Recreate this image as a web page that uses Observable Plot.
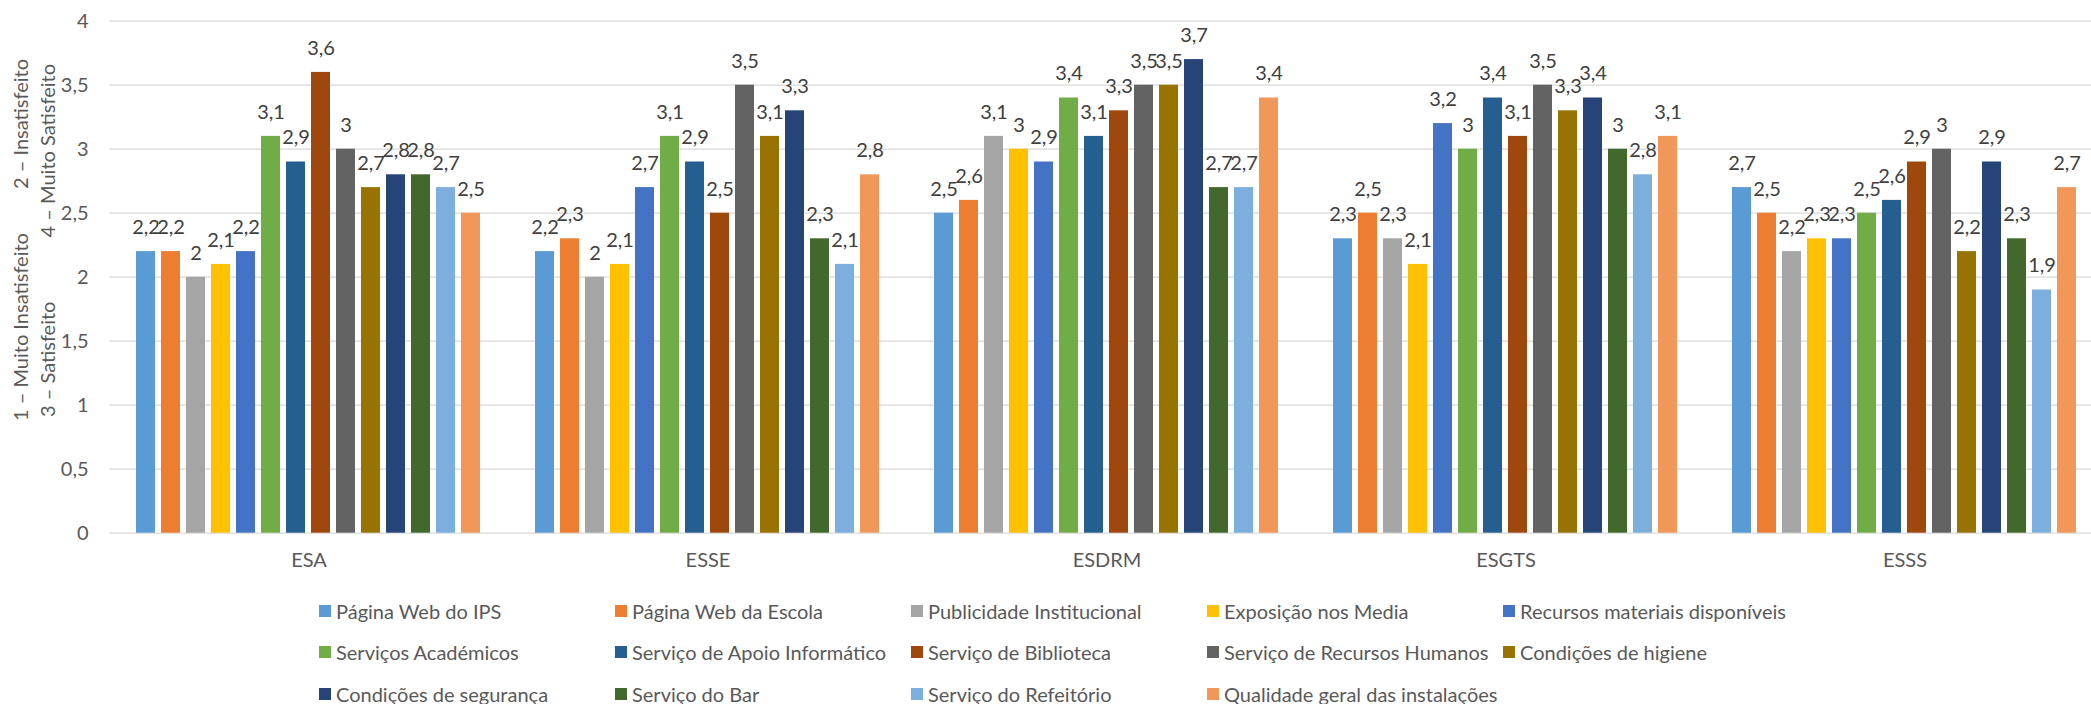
<!DOCTYPE html>
<html>
<head>
<meta charset="utf-8">
<script src="https://cdn.jsdelivr.net/npm/d3@7"></script>
<script src="https://cdn.jsdelivr.net/npm/@observablehq/plot@0.6"></script>
<style>
  html, body { margin: 0; padding: 0; background: #fff; }
  body { width: 2091px; height: 704px; overflow: hidden; font-family: Lato, "Liberation Sans", sans-serif; }
  #legend {
    display: grid;
    grid-template-columns: repeat(5, 296px);
    grid-auto-rows: 41.5px;
    align-items: center;
    padding-left: 319px;
    font-size: 20px;
    color: #595959;
  }
  .item { display: flex; align-items: center; white-space: nowrap; }
  .sw { width: 12px; height: 12px; margin-right: 5px; flex: none; }
</style>
</head>
<body>
<div id="chart"></div>
<div id="legend"></div>
<script>
// ---- data ----
const schools = ["ESA", "ESSE", "ESDRM", "ESGTS", "ESSS"];
const series = [
  "Página Web do IPS",
  "Página Web da Escola",
  "Publicidade Institucional",
  "Exposição nos Media",
  "Recursos materiais disponíveis",
  "Serviços Académicos",
  "Serviço de Apoio Informático",
  "Serviço de Biblioteca",
  "Serviço de Recursos Humanos",
  "Condições de higiene",
  "Condições de segurança",
  "Serviço do Bar",
  "Serviço do Refeitório",
  "Qualidade geral das instalações"
];
const colors = ["#5B9BD5", "#ED7D31", "#A5A5A5", "#FFC000", "#4472C4", "#70AD47", "#255E91",
                "#9E480E", "#636363", "#997300", "#264478", "#43682B", "#7CAFDD", "#F1975A"];
const valuesESA   = [2.2, 2.2, 2.0, 2.1, 2.2, 3.1, 2.9, 3.6, 3.0, 2.7, 2.8, 2.8, 2.7, 2.5];
const valuesESSE  = [2.2, 2.3, 2.0, 2.1, 2.7, 3.1, 2.9, 2.5, 3.5, 3.1, 3.3, 2.3, 2.1, 2.8];
const valuesESDRM = [2.5, 2.6, 3.1, 3.0, 2.9, 3.4, 3.1, 3.3, 3.5, 3.5, 3.7, 2.7, 2.7, 3.4];
const valuesESGTS = [2.3, 2.5, 2.3, 2.1, 3.2, 3.0, 3.4, 3.1, 3.5, 3.3, 3.4, 3.0, 2.8, 3.1];
const valuesESSS  = [2.7, 2.5, 2.2, 2.3, 2.3, 2.5, 2.6, 2.9, 3.0, 2.2, 2.9, 2.3, 1.9, 2.7];
const yTicks = [0, 0.5, 1, 1.5, 2, 2.5, 3, 3.5, 4];
const yTitleLine1 = ["1 – Muito Insatisfeito", "2 – Insatisfeito"];
const yTitleLine2 = ["3 – Satisfeito", "4 – Muito Satisfeito"];

const allValues = [valuesESA, valuesESSE, valuesESDRM, valuesESGTS, valuesESSS];
const data = schools.flatMap((s, i) => series.map((name, j) => ({school: s, series: name, value: allValues[i][j]})));
const fmt = v => String(v).replace(".", ",");

// ---- layout ----
const W = 2091, H = 590;
const mL = 109, mR = -13, mT = 20.7, mB = H - 532.7;
const fxPadInner = 0.11, fxPadOuter = 0.055;
const step = (W - mL - mR) / (schools.length - fxPadInner + 2 * fxPadOuter);
const ext = step * fxPadOuter;          // half gap between groups
const firstBand = mL + ext;
const FS = 20;

const plot = Plot.plot({
  width: W,
  height: H,
  marginLeft: mL,
  marginRight: mR,
  marginTop: mT,
  marginBottom: mB,
  style: {fontFamily: "Lato, 'Liberation Sans', sans-serif", fontSize: FS + "px", color: "#595959", background: "white", overflow: "hidden"},
  fx: {domain: schools, paddingInner: fxPadInner, paddingOuter: fxPadOuter, axis: "bottom", tickSize: 0, tickPadding: 20, label: null},
  x: {domain: series, paddingInner: 0.224, paddingOuter: 0, axis: null},
  y: {domain: [0, 4], axis: null},
  color: {domain: series, range: colors},
  marks: [
    Plot.ruleY(yTicks, {y: d => d, stroke: "#D9D9D9", strokeWidth: 1.3, insetLeft: -ext, insetRight: -ext}),
    Plot.barY(data, {fx: "school", x: "series", y: "value", fill: "series"}),
    Plot.text(data, {fx: "school", x: "series", y: "value", text: d => fmt(d.value), dy: -24, fill: "#404040", fontSize: FS}),
    Plot.axisY({ticks: yTicks, tickFormat: fmt, tickSize: 0, tickPadding: firstBand - 88, label: null, fill: "#595959"})
  ]
});
document.getElementById("chart").appendChild(plot);

// y-axis title (two rotated lines)
const svg = d3.select(plot);
const titleG = svg.append("g").attr("fill", "#595959").attr("font-size", FS).attr("font-family", "Lato, 'Liberation Sans', sans-serif");
const tpos = [
  {t: yTitleLine1[0], x: 20, y: 421, a: "start"},
  {t: yTitleLine1[1], x: 20, y: 59, a: "end"},
  {t: yTitleLine2[0], x: 46.5, y: 417, a: "start"},
  {t: yTitleLine2[1], x: 46.5, y: 64, a: "end"}
];
tpos.forEach(p => {
  titleG.append("text")
    .attr("transform", `translate(${p.x},${p.y}) rotate(-90)`)
    .attr("text-anchor", p.a)
    .attr("dominant-baseline", "central")
    .text(p.t);
});

// legend
const legend = d3.select("#legend");
series.forEach((s, i) => {
  const it = legend.append("div").attr("class", "item");
  it.append("span").attr("class", "sw").style("background", colors[i]);
  it.append("span").text(s);
});
</script>
</body>
</html>
